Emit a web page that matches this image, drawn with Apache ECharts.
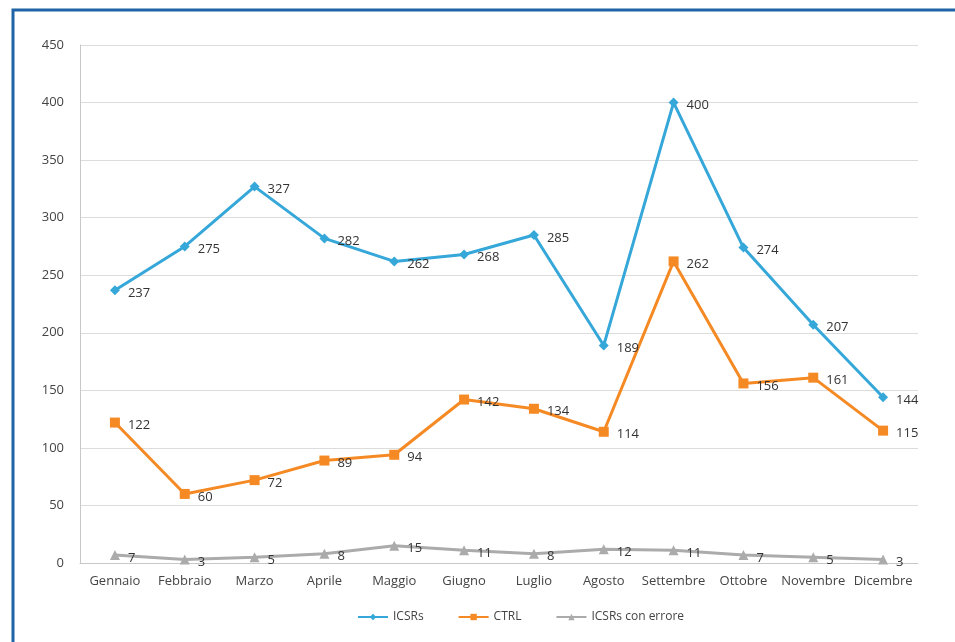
<!DOCTYPE html>
<html>
<head>
<meta charset="utf-8">
<script src="https://cdn.jsdelivr.net/npm/echarts@6/dist/echarts.min.js"></script>
<style>
  html, body { margin: 0; padding: 0; background: #fff; }
  #chart { width: 955px; height: 642px; }
</style>
</head>
<body>
<div id="chart"></div>
<script>
// Monthly counts
const months = ['Gennaio', 'Febbraio', 'Marzo', 'Aprile', 'Maggio', 'Giugno', 'Luglio', 'Agosto', 'Settembre', 'Ottobre', 'Novembre', 'Dicembre'];
const icsrs = [237, 275, 327, 282, 262, 268, 285, 189, 400, 274, 207, 144];
const ctrl = [122, 60, 72, 89, 94, 142, 134, 114, 262, 156, 161, 115];
const icsrsErrore = [7, 3, 5, 8, 15, 11, 8, 12, 11, 7, 5, 3];

const textFont = 'Open Sans, Noto Sans, sans-serif';

function lineSeries(name, data, color, symbol, size) {
  return {
    name: name,
    type: 'line',
    data: data,
    symbol: symbol,
    symbolSize: size,
    itemStyle: { color: color },
    lineStyle: { color: color, width: 3 },
    label: {
      show: true,
      position: 'right',
      distance: 8,
      offset: [0, 3],
      color: '#333',
      fontSize: 13,
      fontFamily: textFont
    }
  };
}

const chart = echarts.init(document.getElementById('chart'));
chart.setOption({
  backgroundColor: '#fff',
  animation: false,
  graphic: [{
    type: 'rect',
    shape: { x: 13, y: 10, width: 1000, height: 700 },
    style: { fill: 'none', stroke: '#1f64a6', lineWidth: 3 },
    silent: true
  }],
  grid: { left: 80, right: 37, top: 45, bottom: 79 },
  legend: {
    bottom: 14,
    left: 352,
    itemWidth: 30,
    itemHeight: 8,
    itemGap: 34,
    textStyle: { color: '#444', fontSize: 12, fontFamily: textFont },
    data: ['ICSRs', 'CTRL', 'ICSRs con errore']
  },
  xAxis: {
    type: 'category',
    data: months,
    boundaryGap: true,
    axisLine: { lineStyle: { color: '#c8c8c8' } },
    axisTick: { show: false },
    axisLabel: { color: '#444', fontSize: 13, fontFamily: textFont, margin: 12, interval: 0 }
  },
  yAxis: {
    type: 'value',
    min: 0,
    max: 450,
    interval: 50,
    axisLine: { show: true, lineStyle: { color: '#c8c8c8' } },
    axisTick: { show: false },
    splitLine: { lineStyle: { color: '#dcdcdc', width: 1 } },
    axisLabel: { color: '#444', fontSize: 13, fontFamily: textFont, margin: 16 }
  },
  series: [
    lineSeries('ICSRs', icsrs, '#35a7d9', 'diamond', 10),
    lineSeries('CTRL', ctrl, '#f58a25', 'rect', 10),
    lineSeries('ICSRs con errore', icsrsErrore, '#ababab', 'triangle', 10)
  ]
});
</script>
</body>
</html>
